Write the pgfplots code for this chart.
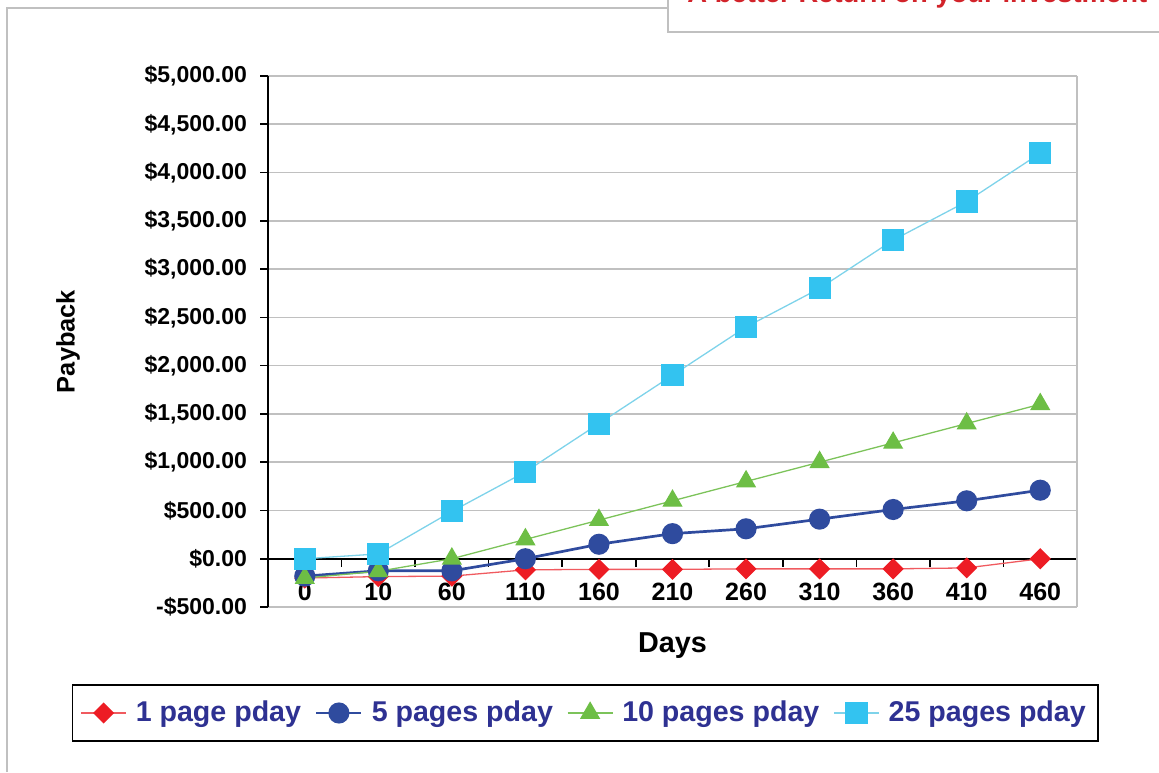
\documentclass[border=0pt]{standalone}
\usepackage{pgfplots}
\pgfplotsset{compat=1.18}
\usepackage{fontspec}
\setmainfont{Liberation Sans}
\definecolor{cRedM}{HTML}{ED1C24}
\definecolor{cRedL}{HTML}{F05A5F}
\definecolor{cBlue}{HTML}{2F4B9E}
\definecolor{cGreenM}{HTML}{6DBE45}
\definecolor{cGreenL}{HTML}{7CC35A}
\definecolor{cCyanM}{HTML}{33C3F0}
\definecolor{cCyanL}{HTML}{7ED3EA}
\definecolor{cNavy}{HTML}{2E3192}
\definecolor{cFrame}{HTML}{C0C0C0}
\definecolor{cTitle}{HTML}{D2232A}
\begin{document}
\begin{tikzpicture}
\useasboundingbox (0,0) rectangle (579.5pt,386pt);
\begin{scope}
\clip (0,0) rectangle (579.5pt,386pt);
\draw[cFrame, line width=1pt] (3.5pt,0) -- (3.5pt,382pt) -- (334pt,382pt);
\draw[cFrame, line width=1pt] (334pt,387pt) -- (334pt,370pt) -- (580pt,370pt);
\node[anchor=base west, inner sep=0, text=cTitle, font=\fontsize{13.7}{16}\selectfont\bfseries] at (343.5pt,384.6pt) {A better Return on your investment};
\end{scope}
\begin{axis}[
  at={(134pt,82.5pt)}, anchor=south west,
  width=404.5pt, height=265.5pt, scale only axis,
  xmin=-0.5, xmax=10.5, ymin=-500, ymax=5000,
  axis x line*=middle, axis y line*=left,
  axis line style={black, line width=0.8pt},
  xtick={-0.5,0.5,1.5,2.5,3.5,4.5,5.5,6.5,7.5,8.5,9.5,10.5},
  xticklabels={},
  extra x ticks={0,1,2,3,4,5,6,7,8,9,10},
  extra x tick labels={0,10,60,110,160,210,260,310,360,410,460},
  extra x tick style={major tick length=0pt, xticklabel style={font=\fontsize{12.5}{14}\selectfont\bfseries, yshift=-8.5pt}},
  xtick align=outside, ytick align=outside,
  major tick length=4pt,
  tick style={black, line width=0.8pt},
  ytick={-500,0,500,1000,1500,2000,2500,3000,3500,4000,4500,5000},
  yticklabels={-\$500.00,\$0.00,\$500.00,\$1{,}000.00,\$1{,}500.00,\$2{,}000.00,\$2{,}500.00,\$3{,}000.00,\$3{,}500.00,\$4{,}000.00,\$4{,}500.00,\$5{,}000.00},
  yticklabel style={font=\fontsize{11.5}{13}\selectfont\bfseries, xshift=-3pt},
  ymajorgrids, major grid style={cFrame, line width=0.8pt},
  xlabel={Days}, ylabel={Payback},
  xlabel style={at={(axis description cs:0.5,-0.0735)}, anchor=center, font=\fontsize{14.4}{16}\selectfont\bfseries},
  ylabel style={at={(axis description cs:-0.247,0.5)}, anchor=center, font=\fontsize{12.7}{15}\selectfont\bfseries},
  legend columns=4,
  legend style={at={(axis description cs:0.392,-0.1996)}, anchor=center, draw=black, line width=0.75pt,
    font=\fontsize{14.3}{16}\selectfont\bfseries, text=cNavy, inner xsep=4pt, inner ysep=6pt,
    /tikz/every odd column/.append style={column sep=2.5pt},
    /tikz/every even column/.append style={column sep=5pt}},
  legend image code/.code={\draw[mark repeat=2,mark phase=2,#1] plot coordinates {(0pt,0pt)(11.25pt,0pt)(22.5pt,0pt)};},
  after end axis/.code={\draw[cFrame, line width=0.8pt] (rel axis cs:1,0) -- (rel axis cs:1,1);},
]
\addplot[cRedL, line width=0.65pt, mark=square*, mark size=3.4pt, mark options={rotate=45, fill=cRedM, draw=cRedM, solid}]
  coordinates {(0,-200) (1,-185) (2,-180) (3,-115) (4,-110) (5,-110) (6,-105) (7,-105) (8,-105) (9,-95) (10,0)};
\addlegendentry{1 page pday}
\addplot[cBlue, line width=1.35pt, mark=*, mark size=4.6pt, mark options={fill=cBlue, draw=cBlue, solid}]
  coordinates {(0,-180) (1,-125) (2,-125) (3,0) (4,150) (5,260) (6,310) (7,410) (8,510) (9,600) (10,710)};
\addlegendentry{5 pages pday}
\addplot[cGreenL, line width=0.65pt, mark=triangle*, mark size=5.2pt, mark options={fill=cGreenM, draw=cGreenM, solid}]
  coordinates {(0,-200) (1,-130) (2,0) (3,200) (4,400) (5,600) (6,800) (7,1000) (8,1200) (9,1400) (10,1600)};
\addlegendentry{10 pages pday}
\addplot[cCyanL, line width=0.65pt, mark=square*, mark size=5.2pt, mark options={fill=cCyanM, draw=cCyanM, solid}]
  coordinates {(0,0) (1,50) (2,490) (3,900) (4,1400) (5,1900) (6,2400) (7,2800) (8,3300) (9,3700) (10,4200)};
\addlegendentry{25 pages pday}
\end{axis}
\end{tikzpicture}
\end{document}
